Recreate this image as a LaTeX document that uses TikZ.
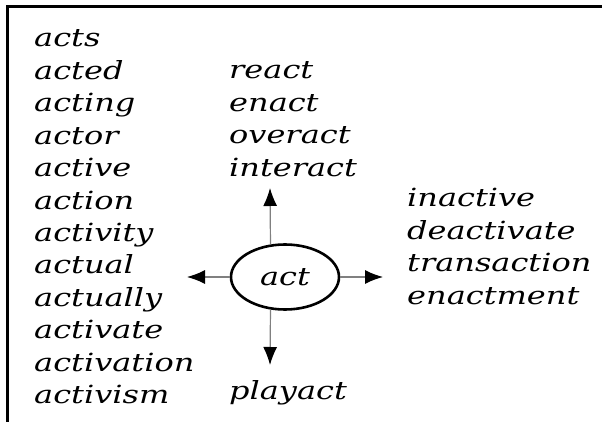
\documentclass[tikz,border=0pt]{standalone}
\usepackage{fontspec}
\newfontfamily\handfamily[FakeStretch=1.28]{DejaVu Serif}
\usepackage{tikz}
\usetikzlibrary{positioning, arrows.meta, shapes.geometric}
\newcommand{\handfont}{\handfamily\itshape\fontsize{25}{28}\selectfont}

\tikzset{
  word/.style={font=\handfont, anchor=west, inner sep=0pt, text height=21pt, text depth=11pt},
  arr/.style={draw=black!50, line width=1.2pt, -{Latex[length=18pt, width=14pt, color=black]}}
}

\begin{document}
\begin{tikzpicture}[x=1pt, y=-1pt, node distance=0pt]
  \useasboundingbox (0,0) rectangle (602,422);
  % frame, cut at right and bottom
  \draw[line width=3pt] (7,422) -- (7,7) -- (602,7);

  % centre word
  \node[ellipse, draw, line width=2.6pt, minimum width=108pt, minimum height=65pt,
    inner sep=0pt, font=\handfont] (act) at (285,277) {act};

  % left column
  \node[word] (acts) at (34,42) {acts};
  \node[word, below=of acts.south west, anchor=north west] (acted) {acted};
  \node[word, below=of acted.south west, anchor=north west] (acting) {acting};
  \node[word, below=of acting.south west, anchor=north west] (actor) {actor};
  \node[word, below=of actor.south west, anchor=north west] (active) {active};
  \node[word, below=of active.south west, anchor=north west] (action) {action};
  \node[word, below=of action.south west, anchor=north west] (activity) {activity};
  \node[word, below=of activity.south west, anchor=north west] (actual) {actual};
  \node[word, below=of actual.south west, anchor=north west] (actually) {actually};
  \node[word, below=of actually.south west, anchor=north west] (activate) {activate};
  \node[word, below=of activate.south west, anchor=north west] (activation) {activation};
  \node[word, below=of activation.south west, anchor=north west] (activism) {activism};

  % top column
  \node[word] (react) at (229,74) {react};
  \node[word, below=of react.south west, anchor=north west] (enact) {enact};
  \node[word, below=of enact.south west, anchor=north west] (overact) {overact};
  \node[word, below=of overact.south west, anchor=north west] (interact) {interact};

  % bottom
  \node[word] (playact) at (229,394) {playact};

  % right column
  \node[word] (inactive) at (407,202) {inactive};
  \node[word, below=of inactive.south west, anchor=north west] (deactivate) {deactivate};
  \node[word, below=of deactivate.south west, anchor=north west] (transaction) {transaction};
  \node[word, below=of transaction.south west, anchor=north west] (enactment) {enactment};

  % arrow ends
  \coordinate (upend) at (270,188);
  \coordinate (downend) at (270,365);
  \coordinate (leftend) at (187,277);
  \coordinate (rightend) at (383,277);

  \draw[arr] (act.114) -- (upend);
  \draw[arr] (act.246) -- (downend);
  \draw[arr] (act.west |- leftend) -- (leftend);
  \draw[arr] (act.east |- rightend) -- (rightend);
\end{tikzpicture}
\end{document}
